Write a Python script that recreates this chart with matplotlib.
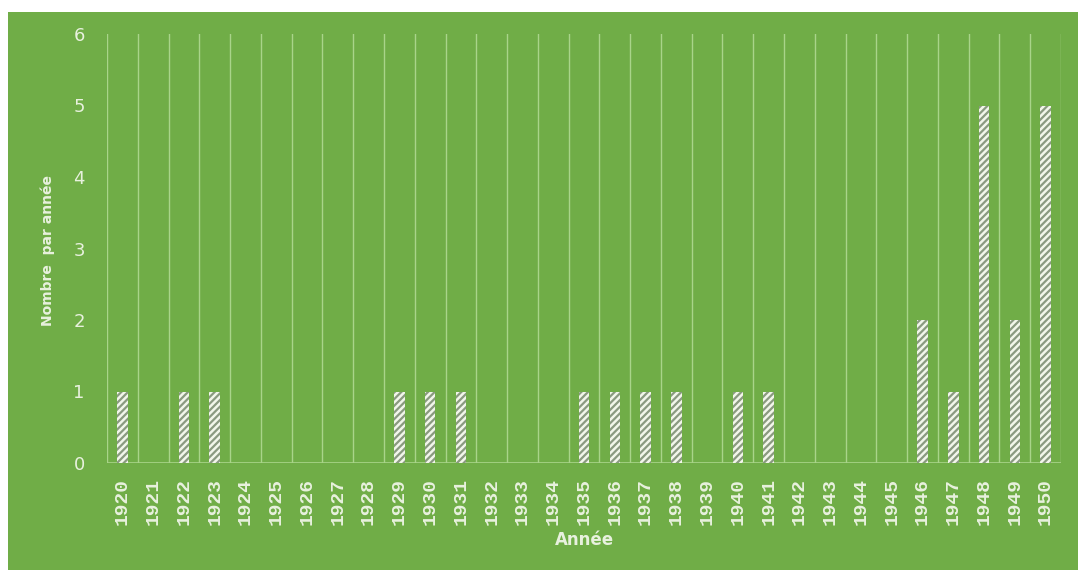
import numpy as np
import matplotlib.pyplot as plt
import matplotlib.patches as mpatches

# data
years = list(range(1920, 1951))
counts = [1, 0, 1, 1, 0, 0, 0, 0, 0, 1,
          1, 1, 0, 0, 0, 1, 1, 1, 1, 0,
          1, 1, 0, 0, 0, 0, 2, 1, 5, 2,
          5]

green = '#70AD47'
txt = '#E8F1DE'
grid = '#A9D48A'

fig = plt.figure(figsize=(10.78, 5.70), dpi=100, facecolor='white')
# green chart area
fig.patches.append(mpatches.Rectangle((8 / 1078, 0), 1, 1 - 12 / 570,
                                      transform=fig.transFigure,
                                      facecolor=green, edgecolor='none', zorder=-5))

ax = fig.add_axes([107 / 1078, 1 - 463 / 570, (1061 - 107) / 1078, (463 - 34) / 570])
ax.set_zorder(2)
ax.set_facecolor(green)

x = np.arange(len(years))
plt.rcParams['hatch.linewidth'] = 1.6
ax.bar(x, counts, width=0.34, color='#F2F6EA', edgecolor='#8A9A80',
       linewidth=0, hatch='/////', zorder=3)

for b in np.arange(-0.5, len(years), 1):
    ax.axvline(b, color=grid, lw=1, zorder=1)
ax.axhline(0, color=grid, lw=1.2, zorder=2)

ax.set_xlim(-0.5, len(years) - 0.5)
ax.set_ylim(0, 6)
ax.tick_params(axis='y', colors=txt, labelsize=13, length=0, pad=16)
ax.tick_params(axis='x', length=0, pad=11)
ax.set_yticks(range(7))
ax.set_xticks(x)
ax.set_xticklabels([str(y) for y in years])
for lab in ax.get_xticklabels():
    lab.set_fontfamily('Liberation Mono')
    lab.set_fontweight('bold')
    lab.set_fontsize(14)
    lab.set_rotation(90)
    lab.set_color(txt)
for s in ax.spines.values():
    s.set_visible(False)

ax.set_xlabel('Année', fontsize=12, fontweight='bold', color=txt, labelpad=4)
fig.text(48 / 1078, 1 - 250 / 570, 'Nombre  par année', rotation=90,
         ha='center', va='center', fontsize=10, fontweight='bold', color=txt)

fig.savefig('out.png', dpi=100, facecolor='white')
